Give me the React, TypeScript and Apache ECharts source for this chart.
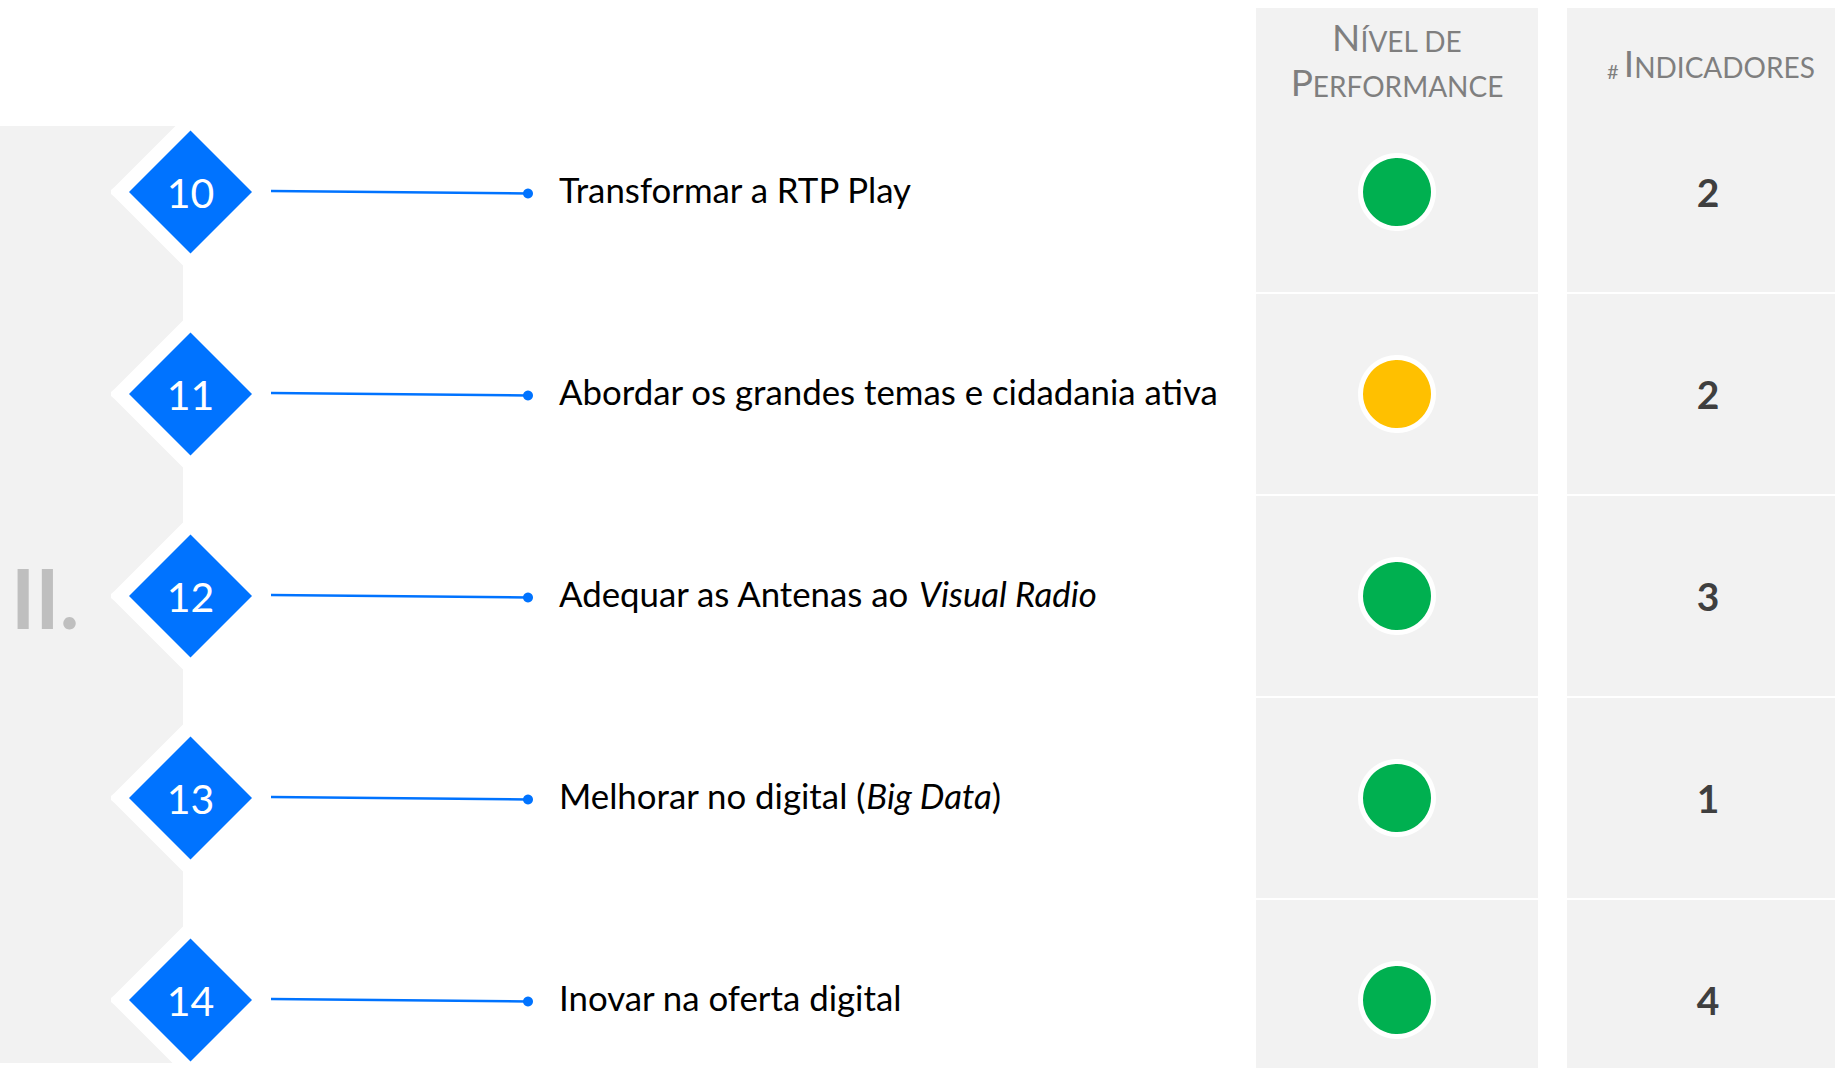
import React, { useEffect, useRef } from "react";
import * as echarts from "echarts";

// ---- data ----
const objectiveIds = ["10", "11", "12", "13", "14"];
const objectiveLabels = [
  "Transformar a RTP Play",
  "Abordar os grandes temas e cidadania ativa",
  "Adequar as Antenas ao {i|Visual Radio}",
  "Melhorar no digital ({i|Big Data})",
  "Inovar na oferta digital",
];
const performanceLevels = ["green", "yellow", "green", "green", "green"];
const indicatorCounts = [2, 2, 3, 1, 4];
const sectionLabel = "II.";
const headerPerformanceLine1 = "{b|N}{s|ÍVEL DE}";
const headerPerformanceLine2 = "{b|P}{s|ERFORMANCE}";
const headerIndicators = "{h|# }{b|I}{s|NDICADORES}";

// ---- styles / layout ----
const W = 1835;
const H = 1068;
const BLUE = "#0073FF";
const PANEL_GRAY = "#F2F2F2";
const LEVEL_COLORS: Record<string, string> = { green: "#00B050", yellow: "#FFC000" };
const FONT = "Lato, 'Noto Sans', sans-serif";

const ROW0_CENTER = 192;
const ROW_STEP = 202;
const PANEL_RIGHT = 183;
const PANEL_TOP = 126;
const PANEL_BOTTOM = 1063;
const DIAMOND_CX = 190.5;
const HALO_R = 81;
const DIAMOND_R = 61.5;
const LINE_X1 = 271;
const LINE_X2 = 528;
const LABEL_X = 559;
const COL1_L = 1256;
const COL1_R = 1538;
const COL1_CX = 1397;
const COL2_L = 1567;
const COL2_R = W;
const COL2_CX = 1708;
const HEADER_TOP = 8;

function renderItem(params: any, api: any) {
  const i = params.dataIndex;
  const n = objectiveIds.length;
  const px = (v: number) => api.coord([v, i])[0];
  const cy = api.coord([0, i])[1];
  const half = api.size([0, 1])[1] / 2;
  const dx = px(DIAMOND_CX);

  const bandTop = cy - half;
  const bandBottom = cy + half;
  const cellTop = i === 0 ? HEADER_TOP : bandTop + 1;
  const cellBottom = i === n - 1 ? H : bandBottom - 1;
  const panelTop = Math.max(PANEL_TOP, bandTop);
  const panelBottom = Math.min(PANEL_BOTTOM, bandBottom);

  const hx = dx - HALO_R;
  const children: any[] = [
    {
      type: "rect",
      shape: { x: 0, y: panelTop, width: px(PANEL_RIGHT), height: panelBottom - panelTop },
      style: { fill: PANEL_GRAY },
    },
    {
      type: "rect",
      shape: { x: px(COL1_L), y: cellTop, width: px(COL1_R) - px(COL1_L), height: cellBottom - cellTop },
      style: { fill: PANEL_GRAY },
    },
    {
      type: "rect",
      shape: { x: px(COL2_L), y: cellTop, width: px(COL2_R) - px(COL2_L), height: cellBottom - cellTop },
      style: { fill: PANEL_GRAY },
    },
    {
      type: "polygon",
      shape: {
        points: [
          [dx, cy - HALO_R],
          [dx + HALO_R, cy],
          [dx, cy + HALO_R],
          [hx + 5, cy + 5],
          [hx + 1.5, cy + 2],
          [hx + 1.5, cy - 2],
          [hx + 5, cy - 5],
        ],
      },
      style: { fill: "#FFFFFF" },
    },
    {
      type: "polygon",
      shape: {
        points: [
          [dx, cy - DIAMOND_R],
          [dx + DIAMOND_R, cy],
          [dx, cy + DIAMOND_R],
          [dx - DIAMOND_R, cy],
        ],
      },
      style: { fill: BLUE },
    },
    {
      type: "text",
      x: dx,
      y: cy,
      style: {
        text: objectiveIds[i],
        fill: "#FFFFFF",
        fontSize: 41,
        fontFamily: FONT,
        align: "center",
        verticalAlign: "middle",
      },
    },
    {
      type: "line",
      shape: { x1: px(LINE_X1), y1: cy - 1, x2: px(LINE_X2), y2: cy + 1.5 },
      style: { stroke: BLUE, lineWidth: 2.5 },
    },
    {
      type: "circle",
      shape: { cx: px(LINE_X2), cy: cy + 1.5, r: 5 },
      style: { fill: BLUE },
    },
    {
      type: "text",
      x: px(LABEL_X),
      y: cy - 3,
      style: {
        text: objectiveLabels[i],
        fill: "#000000",
        fontSize: 34.8,
        fontFamily: FONT,
        align: "left",
        verticalAlign: "middle",
        rich: {
          i: { fontSize: 34.8, fontFamily: FONT, fontStyle: "italic", fill: "#000000" },
        },
      },
    },
    {
      type: "circle",
      shape: { cx: px(COL1_CX), cy: cy, r: 36.5 },
      style: { fill: LEVEL_COLORS[performanceLevels[i]], stroke: "#FFFFFF", lineWidth: 5 },
    },
    {
      type: "text",
      x: px(COL2_CX),
      y: cy,
      style: {
        text: String(indicatorCounts[i]),
        fill: "#3F3F3F",
        fontSize: 39,
        fontWeight: "bold",
        fontFamily: FONT,
        align: "center",
        verticalAlign: "middle",
      },
    },
  ];
  return { type: "group", children };
}

const headerRich = {
  b: { fontSize: 37, fontFamily: FONT, fill: "#7F7F7F", verticalAlign: "bottom" },
  s: { fontSize: 28, fontFamily: FONT, fill: "#7F7F7F", verticalAlign: "bottom" },
  h: { fontSize: 20, fontFamily: FONT, fill: "#7F7F7F", verticalAlign: "bottom" },
};

export default function App() {
  const ref = useRef<HTMLDivElement>(null);
  useEffect(() => {
    if (!ref.current) return;
    const chart = echarts.init(ref.current, undefined, { renderer: "svg" });
    chart.setOption({
      animation: false,
      backgroundColor: "#FFFFFF",
      grid: { left: 0, top: 0, right: 0, bottom: 0, containLabel: false },
      xAxis: { type: "value", min: 0, max: W, show: false },
      yAxis: {
        type: "value",
        inverse: true,
        min: -ROW0_CENTER / ROW_STEP,
        max: (H - ROW0_CENTER) / ROW_STEP,
        show: false,
      },
      series: [
        {
          type: "custom",
          renderItem,
          clip: false,
          silent: true,
          data: objectiveIds.map((id, i) => [0, i, indicatorCounts[i]]),
        },
      ],
      graphic: [
        {
          type: "text",
          z: 100,
          left: 11,
          top: 556,
          style: {
            text: sectionLabel,
            fill: "#BFBFBF",
            fontSize: 82,
            fontWeight: "bold",
            fontFamily: FONT,
          },
        },
        {
          type: "text",
          z: 100,
          x: COL1_CX,
          y: 36.5,
          style: { text: headerPerformanceLine1, align: "center", verticalAlign: "middle", rich: headerRich },
        },
        {
          type: "text",
          z: 100,
          x: COL1_CX,
          y: 81.5,
          style: { text: headerPerformanceLine2, align: "center", verticalAlign: "middle", rich: headerRich },
        },
        {
          type: "text",
          z: 100,
          x: COL2_CX + 3,
          y: 62.5,
          style: { text: headerIndicators, align: "center", verticalAlign: "middle", rich: headerRich },
        },
      ],
    });
    return () => chart.dispose();
  }, []);
  return (
    <div
      ref={ref}
      style={{ position: "fixed", left: 0, top: 0, width: W, height: H, background: "#fff" }}
    />
  );
}
